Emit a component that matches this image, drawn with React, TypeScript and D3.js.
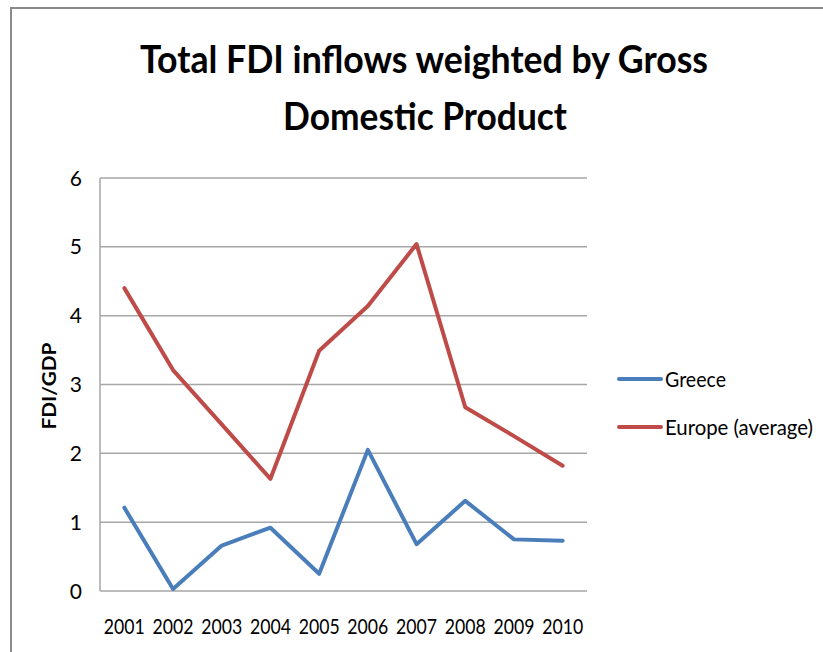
import React from "react";
import * as d3 from "d3";

const years = ["2001", "2002", "2003", "2004", "2005", "2006", "2007", "2008", "2009", "2010"];
const greece = [1.21, 0.03, 0.66, 0.92, 0.25, 2.05, 0.68, 1.31, 0.75, 0.73];
const europe = [4.4, 3.21, 2.42, 1.63, 3.49, 4.14, 5.04, 2.67, 2.25, 1.82];
const yTicks = [0, 1, 2, 3, 4, 5, 6];
const seriesNames = ["Greece", "Europe (average)"];
const seriesColors = ["#4A7EBB", "#BE4B48"];
const titleLines = ["Total FDI inflows weighted by Gross", "Domestic Product"];
const yTitle = "FDI/GDP";

const FONT = "Lato, 'Open Sans', 'DejaVu Sans Condensed', sans-serif";

export default function App() {
  const W = 823, H = 652;
  const x = d3.scaleBand<string>().domain(years).range([100, 587]);
  const y = d3.scaleLinear().domain([0, 6]).range([591, 178]);
  const line = d3
    .line<number>()
    .x((_, i) => (x(years[i]) as number) + x.bandwidth() / 2)
    .y((d) => y(d));
  const series = [greece, europe];
  const grid = "#a6a6a6";

  return (
    <svg width={W} height={H} style={{ position: "absolute", left: 0, top: 0, background: "#fff" }} fontFamily={FONT}>
      <rect x={0} y={0} width={W} height={H} fill="#fff" />
      <path d={`M11,${H} L11,8 L${W},8`} fill="none" stroke="#8a8a8a" strokeWidth={2} />
      <text x={424} y={73} textAnchor="middle" fontSize={38} fontWeight="bold" fill="#000" textLength={568} lengthAdjust="spacingAndGlyphs">
        {titleLines[0]}
      </text>
      <text x={425} y={130} textAnchor="middle" fontSize={38} fontWeight="bold" fill="#000" textLength={284} lengthAdjust="spacingAndGlyphs">
        {titleLines[1]}
      </text>
      {yTicks.map((t) => (
        <line key={"g" + t} x1={100} x2={587} y1={y(t)} y2={y(t)} stroke={grid} strokeWidth={1.5} />
      ))}
      <line x1={100} x2={100} y1={y(6)} y2={y(0)} stroke={grid} strokeWidth={1.5} />
      {yTicks.map((t) => (
        <text key={"t" + t} x={82} y={y(t)} dy="0.36em" textAnchor="end" fontSize={21} fill="#000">
          {t}
        </text>
      ))}
      {years.map((yr) => (
        <text key={yr} x={(x(yr) as number) + x.bandwidth() / 2} y={634} textAnchor="middle" fontSize={22} fill="#000" textLength={41} lengthAdjust="spacingAndGlyphs">
          {yr}
        </text>
      ))}
      <text transform="translate(56,386) rotate(-90)" textAnchor="middle" fontSize={18} fontWeight="bold" fill="#000" textLength={87} lengthAdjust="spacingAndGlyphs">
        {yTitle}
      </text>
      {series.map((s, i) => (
        <path key={"s" + i} d={line(s) || ""} fill="none" stroke={seriesColors[i]} strokeWidth={4} strokeLinejoin="round" strokeLinecap="round" />
      ))}
      {seriesNames.map((n, i) => (
        <g key={n} transform={`translate(0,${379 + i * 48})`}>
          <line x1={619} x2={661} y1={0} y2={0} stroke={seriesColors[i]} strokeWidth={4} strokeLinecap="round" />
          <text x={665} y={0} dy="0.36em" fontSize={21} fill="#000" textLength={n.length > 8 ? 148 : 61} lengthAdjust="spacingAndGlyphs">
            {n}
          </text>
        </g>
      ))}
    </svg>
  );
}
